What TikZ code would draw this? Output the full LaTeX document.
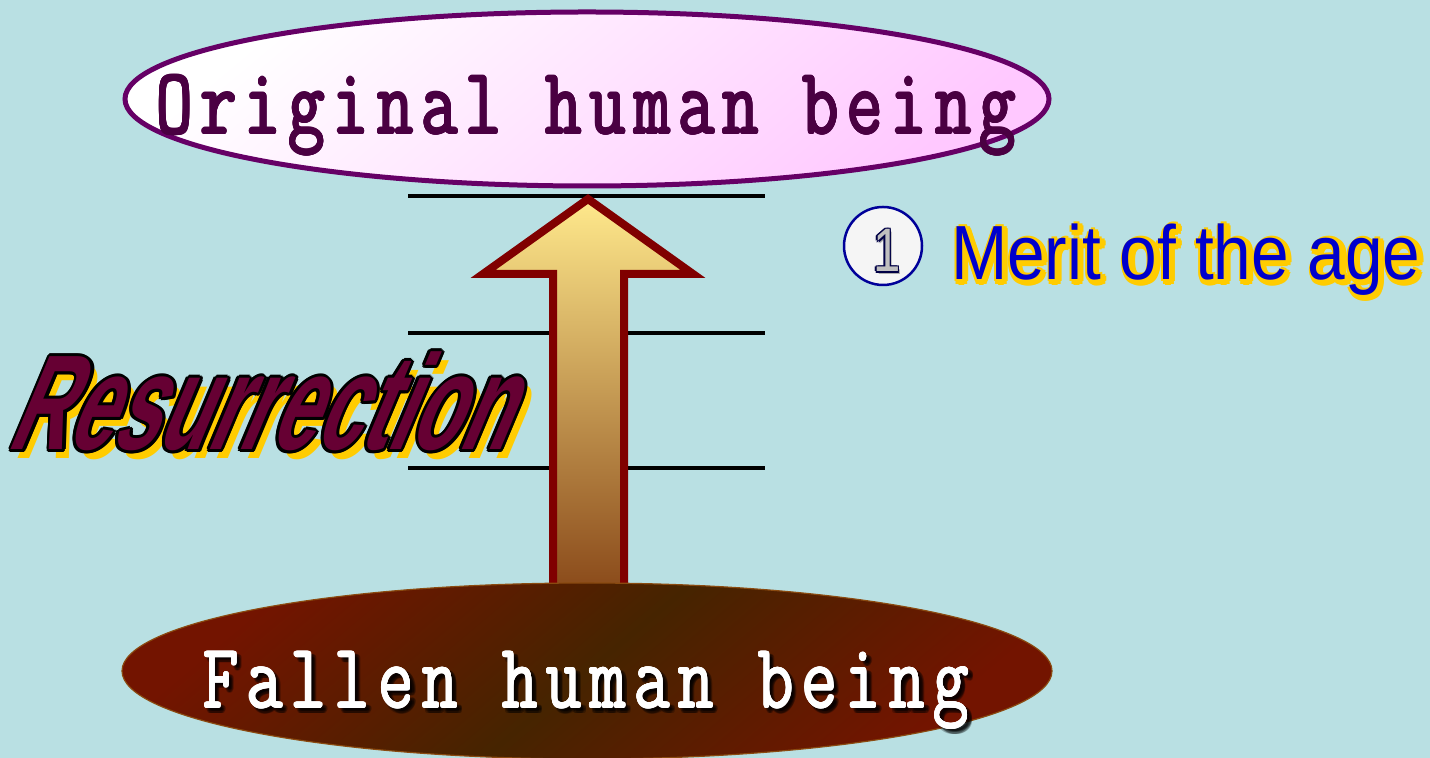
\documentclass[tikz,border=0pt]{standalone}
\usepackage{fontspec}
\usepackage{graphicx}
\setmainfont{Liberation Serif}
\newfontfamily\mymono{Latin Modern Mono}[LetterSpace=11]
\newfontfamily\sansfnt{Liberation Sans}
\usetikzlibrary{calc}
\definecolor{bgc}{HTML}{B9E0E3}
\definecolor{topborder}{HTML}{660066}
\definecolor{toppink}{HTML}{FFC8FF}
\definecolor{toptext}{HTML}{4A0042}
\definecolor{arrowred}{HTML}{800000}
\definecolor{arrtop}{HTML}{FFE98C}
\definecolor{arrbot}{HTML}{8A4A1A}
\definecolor{redc}{HTML}{731400}
\definecolor{darkb}{HTML}{462400}
\definecolor{botborder}{HTML}{8A4A10}
\definecolor{resfill}{HTML}{660033}
\definecolor{shadowy}{HTML}{FFCC00}
\definecolor{meritblue}{HTML}{0000CC}
\definecolor{navyc}{HTML}{000099}
\newcommand{\origword}{\scalebox{1}[1.33]{\mymono\fontsize{35.3}{38}\selectfont Original human being}}
\newcommand{\fallword}{\scalebox{1}[1.31]{\mymono\fontsize{35.1}{38}\selectfont Fallen human being}}
\newcommand{\resword}{\scalebox{0.6}[1]{\sansfnt\bfseries\fontsize{67.5}{70}\selectfont Resurrection}}
\newcommand{\meritword}{\scalebox{0.88}[1]{\sansfnt\fontsize{38.4}{40}\selectfont Merit of the age}}
\newcommand{\oneword}{\scalebox{0.8}[1]{\sansfnt\fontsize{30.7}{32}\selectfont 1}}
\tikzset{
  txt/.style={inner sep=0pt, outer sep=0pt},
  hline/.style={line width=2pt, black},
}
\begin{document}
\begin{tikzpicture}[x=0.5pt,y=0.5pt]
\useasboundingbox (0,0) rectangle (1430,758);
\fill[bgc] (0,0) rectangle (1430,758);
% horizontal lines
\coordinate (l1a) at (408,562); \coordinate (l1b) at (765,562);
\coordinate (l2a) at (408,425); \coordinate (l2b) at (765,425);
\coordinate (l3a) at (408,290); \coordinate (l3b) at (765,290);
\draw[hline] (l1a) -- (l1b);
\draw[hline] (l2a) -- (l2b);
\draw[hline] (l3a) -- (l3b);
% top ellipse
\draw[line width=2.5pt, draw=topborder, top color=white, bottom color=toppink, shading angle=40]
  (587,659) ellipse [x radius=462, y radius=87];
\foreach \a in {0,30,...,330}{
  \node[txt, anchor=base, text=toptext] (origo\a) at ($(586,624)+(\a:0.5pt)$) {\origword};
}
\node[txt, anchor=base, text=toptext] (orig) at (586,624) {\origword};
% arrow
\coordinate (tip) at (588,559);
\coordinate (base) at (588,168);
\draw[line width=4pt, draw=arrowred, top color=arrtop, bottom color=arrbot, miter limit=10]
  (tip) -- (693,484) -- (624,484) -- (624,168) -- (553,168) -- (553,484) -- (483,484) -- cycle;
% bottom ellipse
\draw[line width=0.6pt, draw=botborder, top color=redc, bottom color=redc, middle color=darkb, shading angle=40]
  (587,87) ellipse [x radius=465, y radius=88];
\foreach \a in {0,45,...,315}{
  \node[txt, anchor=base, text=black, opacity=0.25] (fallsh\a) at ($(590,46)+(\a:0.9pt)$) {\fallword};
}
\foreach \a in {0,45,...,315}{
  \node[txt, anchor=base, text=white] (fallo\a) at ($(586,50)+(\a:0.3pt)$) {\fallword};
}
\node[txt, anchor=base, text=white] (fall) at (586,50) {\fallword};
% Resurrection
\node[txt, anchor=base west, xslant=0.42, text=shadowy] (ressh) at (13,299) {\resword};
\foreach \a in {0,30,...,330}{
  \node[txt, anchor=base west, xslant=0.42, text=black] (reso\a) at ($(6,308)+(\a:1.5pt)$) {\resword};
}
\node[txt, anchor=base west, xslant=0.42, text=resfill] (res) at (6,308) {\resword};
% circle with 1
\draw[line width=1.25pt, draw=navyc, fill=white!96!black] (883,512) circle [radius=39];
\node[txt, anchor=base, text=gray, opacity=0.6] (onesh) at (889.5,483.5) {\oneword};
\foreach \a in {0,60,...,300}{
  \node[txt, anchor=base, text=black!55!navyc] (oneo\a) at ($(887,486)+(\a:0.7pt)$) {\oneword};
}
\node[txt, anchor=base, text=black!25] (one) at (887,486) {\oneword};
% Merit of the age
\foreach \a in {0,45,...,315}{
  \node[txt, anchor=base west, text=shadowy] (merito\a) at ($(953.5,476)+(\a:2pt)$) {\meritword};
}
\node[txt, anchor=base west, text=meritblue] (merit) at (951,478) {\meritword};
\end{tikzpicture}
\end{document}
